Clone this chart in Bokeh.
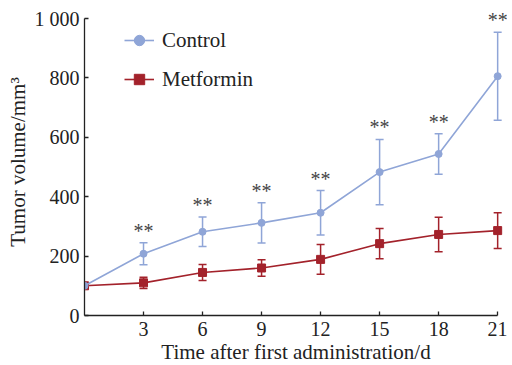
from bokeh.plotting import figure
from bokeh.models import ColumnDataSource, Whisker, TeeHead, Legend, LegendItem, FixedTicker, LabelSet
from bokeh.embed import file_html
from bokeh.resources import INLINE

days = [0, 3, 6, 9, 12, 15, 18, 21]
control = [100, 208, 282, 312, 346, 483, 544, 806]
control_err = [0, 37, 50, 68, 75, 110, 68, 148]
metformin = [100, 110, 145, 160, 189, 242, 273, 286]
metformin_err = [0, 19, 27, 28, 50, 51, 58, 60]
sig_labels = ["**", "**", "**", "**", "**", "**", "**"]
x_ticks = [3, 6, 9, 12, 15, 18, 21]
y_ticks = [0, 200, 400, 600, 800, 1000]

C_BLUE = "#8FA5D7"
C_RED = "#A3222B"
FONT = "Liberation Serif"

# headroom above/right of the axes so the stars are not clipped; axis lines limited by bounds
Y_TOP = 1034
X_RIGHT = 21.5

p = figure(frame_width=423, frame_height=307, x_range=(0, X_RIGHT), y_range=(0, Y_TOP),
           output_backend="svg", toolbar_location=None,
           min_border_left=84, min_border_right=0, min_border_top=8, min_border_bottom=0)
p.outline_line_color = None
p.grid.visible = False
p.background_fill_color = "white"

def err_source(vals, errs):
    return ColumnDataSource(dict(
        x=days[1:],
        upper=[v + e for v, e in zip(vals[1:], errs[1:])],
        lower=[v - e for v, e in zip(vals[1:], errs[1:])],
    ))

src_m = err_source(metformin, metformin_err)
src_c = err_source(control, control_err)

# Metformin
wm = Whisker(source=src_m, base="x", upper="upper", lower="lower",
             line_color=C_RED, line_width=1.5,
             upper_head=TeeHead(size=8, line_color=C_RED, line_width=1.5),
             lower_head=TeeHead(size=8, line_color=C_RED, line_width=1.5))
p.add_layout(wm)
lm = p.line(days, metformin, line_color=C_RED, line_width=1.6)
sm = p.scatter(days, metformin, marker="square", size=8, fill_color=C_RED, line_color=C_RED)

# Control
wc = Whisker(source=src_c, base="x", upper="upper", lower="lower",
             line_color=C_BLUE, line_width=1.5,
             upper_head=TeeHead(size=8, line_color=C_BLUE, line_width=1.5),
             lower_head=TeeHead(size=8, line_color=C_BLUE, line_width=1.5))
p.add_layout(wc)
lc = p.line(days, control, line_color=C_BLUE, line_width=1.6)
sc = p.scatter(days, control, marker="circle", size=7, fill_color=C_BLUE, line_color=C_BLUE)

# significance stars
star_src = ColumnDataSource(dict(x=src_c.data["x"], y=src_c.data["upper"], t=sig_labels))
stars = LabelSet(x="x", y="y", text="t", source=star_src, text_align="center",
                 text_baseline="alphabetic", y_offset=5, text_font=FONT,
                 text_font_size="20px", text_color="#444444")
p.add_layout(stars)

legend = Legend(items=[LegendItem(label="Control", renderers=[lc, sc]),
                       LegendItem(label="Metformin", renderers=[lm, sm])],
                location=(40, 223), padding=0, spacing=13, margin=0,
                glyph_width=30, glyph_height=26, label_height=26, label_standoff=8,
                label_text_font=FONT, label_text_font_size="21px",
                label_text_color="#222222",
                border_line_color=None, background_fill_alpha=0)
p.add_layout(legend)

for ax in (p.xaxis[0], p.yaxis[0]):
    ax.axis_line_color = "#222222"
    ax.axis_line_width = 1.3
    ax.major_tick_line_color = "#222222"
    ax.major_tick_line_width = 1.3
    ax.major_tick_in = 4
    ax.major_tick_out = 0
    ax.minor_tick_line_color = None
    ax.major_label_text_font = FONT
    ax.major_label_text_font_size = "20px"
    ax.major_label_text_color = "#222222"
    ax.axis_label_text_font = FONT
    ax.axis_label_text_font_size = "21px"
    ax.axis_label_text_font_style = "normal"
    ax.axis_label_text_color = "#222222"

p.xaxis.ticker = FixedTicker(ticks=x_ticks)
p.yaxis.ticker = FixedTicker(ticks=y_ticks)
p.xaxis.bounds = (0, 21)
p.yaxis.bounds = (0, 1000)
p.yaxis.major_label_overrides = {1000: "1 000"}
p.xaxis.axis_label = "Time after first administration/d"
p.yaxis.axis_label = "Tumor volume/mm³"
p.xaxis.major_label_standoff = 6
p.xaxis.axis_label_standoff = 1
p.yaxis.major_label_standoff = 5
p.yaxis.axis_label_standoff = 2

open("out.html", "w").write(file_html(p, INLINE))
